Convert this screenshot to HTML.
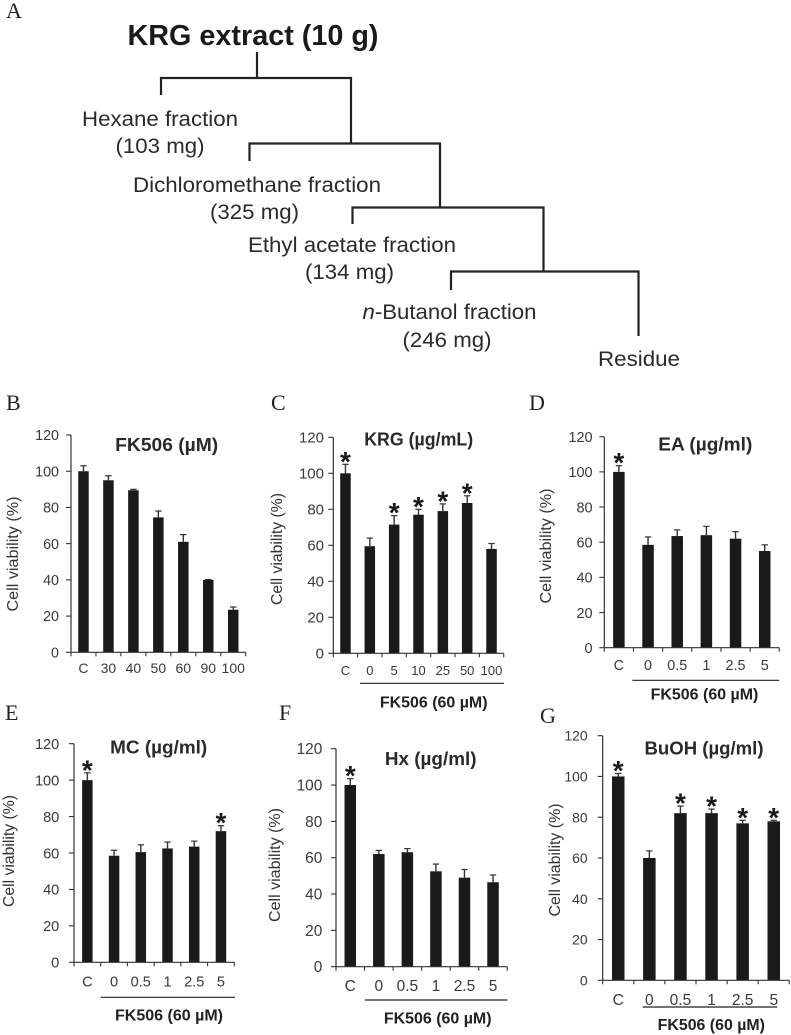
<!DOCTYPE html>
<html lang="en">
<head>
<meta charset="utf-8">
<title>KRG extract fractionation and cell viability</title>
<style>
html,body{margin:0;padding:0;background:#fff;}
svg{display:block;}
text{font-family:"Liberation Sans",Arial,sans-serif;fill:#303030;}
.letter{font-family:"Liberation Serif",serif;font-size:22px;fill:#222;}
.flow{font-size:20.8px;fill:#2a2a2a;}
.ftitle{font-size:28.6px;font-weight:bold;fill:#1a1a1a;}
.ptitle{font-size:18px;font-weight:bold;fill:#2a2a2a;text-anchor:middle;}
.ytitle{font-size:16px;fill:#333;text-anchor:middle;}
.fk{font-size:15.8px;font-weight:bold;fill:#222;text-anchor:middle;}
.link{stroke:#222;stroke-width:2.2;fill:none;}
.under{stroke:#222;stroke-width:1.2;}
</style>
</head>
<body>
<svg id="fig" xmlns="http://www.w3.org/2000/svg" width="791" height="1035" viewBox="0 0 791 1035">
  <rect x="0" y="0" width="791" height="1035" fill="#fff"/>

  <g>
    <text class="letter" x="6" y="18">A</text>
    <text class="ftitle" x="127.5" y="45" textLength="251" lengthAdjust="spacingAndGlyphs">KRG extract (10 g)</text>
    <path class="link" d="M257 52V78M161 95V78H351V143M249.5 161V143.5H440V207.5M352.5 224V207.5H543.5V271.5M451 290V271.5H638.5V336"/>
    <text class="flow" x="82" y="126" textLength="156" lengthAdjust="spacingAndGlyphs">Hexane fraction</text>
    <text class="flow" x="115.5" y="153" textLength="89" lengthAdjust="spacingAndGlyphs">(103 mg)</text>
    <text class="flow" x="133" y="192" textLength="248" lengthAdjust="spacingAndGlyphs">Dichloromethane fraction</text>
    <text class="flow" x="210" y="219" textLength="89" lengthAdjust="spacingAndGlyphs">(325 mg)</text>
    <text class="flow" x="248" y="252" textLength="208" lengthAdjust="spacingAndGlyphs">Ethyl acetate fraction</text>
    <text class="flow" x="305" y="279" textLength="89" lengthAdjust="spacingAndGlyphs">(134 mg)</text>
    <text class="flow" x="362.5" y="319" textLength="174" lengthAdjust="spacingAndGlyphs"><tspan font-style="italic">n</tspan>-Butanol fraction</text>
    <text class="flow" x="402.5" y="347" textLength="89" lengthAdjust="spacingAndGlyphs">(246 mg)</text>
    <text class="flow" x="598" y="366" textLength="82" lengthAdjust="spacingAndGlyphs">Residue</text>
  </g>

  <g>
    <text class="letter" x="6" y="410">B</text>
    <text class="ptitle" x="166.7" y="451" textLength="103" lengthAdjust="spacingAndGlyphs">FK506 (µM)</text>
    <text class="ytitle" transform="translate(18,554) rotate(-90)" textLength="115" lengthAdjust="spacingAndGlyphs">Cell viability (%)</text>
    <g id="chart-b"></g>
  </g>

  <g>
    <text class="letter" x="271" y="410">C</text>
    <text class="ptitle" x="418.7" y="445.7" textLength="109" lengthAdjust="spacingAndGlyphs">KRG (µg/mL)</text>
    <text class="ytitle" transform="translate(282,549) rotate(-90)" textLength="112" lengthAdjust="spacingAndGlyphs">Cell viability (%)</text>
    <g id="chart-c"></g>
    <line class="under" x1="360" x2="504" y1="683.3" y2="683.3"/>
    <text class="fk" x="433.7" y="707.7" textLength="107.7" lengthAdjust="spacingAndGlyphs">FK506 (60 µM)</text>
  </g>

  <g>
    <text class="letter" x="529" y="410">D</text>
    <text class="ptitle" x="705.3" y="450.7" textLength="94" lengthAdjust="spacingAndGlyphs">EA (µg/ml)</text>
    <text class="ytitle" transform="translate(551,546) rotate(-90)" textLength="115" lengthAdjust="spacingAndGlyphs">Cell viability (%)</text>
    <g id="chart-d"></g>
    <line class="under" x1="632.3" x2="779.3" y1="680.3" y2="680.3"/>
    <text class="fk" x="704.5" y="699.3" textLength="107.7" lengthAdjust="spacingAndGlyphs">FK506 (60 µM)</text>
  </g>

  <g>
    <text class="letter" x="5" y="720">E</text>
    <text class="ptitle" x="158.7" y="753.3" textLength="97" lengthAdjust="spacingAndGlyphs">MC (µg/ml)</text>
    <text class="ytitle" transform="translate(14,851) rotate(-90)" textLength="112" lengthAdjust="spacingAndGlyphs">Cell viability (%)</text>
    <g id="chart-e"></g>
    <line class="under" x1="100.7" x2="235" y1="997.3" y2="997.3"/>
    <text class="fk" x="169" y="1020.7" textLength="108" lengthAdjust="spacingAndGlyphs">FK506 (60 µM)</text>
  </g>

  <g>
    <text class="letter" x="279" y="720">F</text>
    <text class="ptitle" x="430.7" y="765" textLength="91.7" lengthAdjust="spacingAndGlyphs">Hx (µg/ml)</text>
    <text class="ytitle" transform="translate(280,865) rotate(-90)" textLength="114" lengthAdjust="spacingAndGlyphs">Cell viability (%)</text>
    <g id="chart-f"></g>
    <line class="under" x1="365" x2="507.3" y1="1000" y2="1000"/>
    <text class="fk" x="437.7" y="1023.3" textLength="107.7" lengthAdjust="spacingAndGlyphs">FK506 (60 µM)</text>
  </g>

  <g>
    <text class="letter" x="540" y="723">G</text>
    <text class="ptitle" x="704" y="754.3" textLength="119" lengthAdjust="spacingAndGlyphs">BuOH (µg/ml)</text>
    <text class="ytitle" transform="translate(560,860) rotate(-90)" textLength="113" lengthAdjust="spacingAndGlyphs">Cell viability (%)</text>
    <g id="chart-g"></g>
    <line class="under" x1="642.7" x2="777.3" y1="1007" y2="1007"/>
    <text class="fk" x="711.3" y="1030" textLength="107.3" lengthAdjust="spacingAndGlyphs">FK506 (60 µM)</text>
  </g>
</svg>

<script>
const yTickLabels = [0, 20, 40, 60, 80, 100, 120];

const bCategories = ['C', '30', '40', '50', '60', '90', '100'];
const bValues = [100, 95, 89.5, 74.5, 61, 40, 23.5];
const bErrors = [3, 2.5, 0.5, 3.5, 4, 0.2, 1.5];
const bStars = [0, 0, 0, 0, 0, 0, 0];

const cCategories = ['C', '0', '5', '10', '25', '50', '100'];
const cValues = [100, 59.5, 71.5, 77, 79, 83.5, 58];
const cErrors = [5, 4.5, 5, 3, 4, 4, 3];
const cStars = [1, 0, 1, 1, 1, 1, 0];

const dCategories = ['C', '0', '0.5', '1', '2.5', '5'];
const dValues = [100, 58.5, 63.5, 64, 62, 55];
const dErrors = [3.5, 4.5, 3.5, 5, 4, 3.5];
const dStars = [1, 0, 0, 0, 0, 0];

const eCategories = ['C', '0', '0.5', '1', '2.5', '5'];
const eValues = [100, 58.5, 60.5, 62.5, 63.5, 72];
const eErrors = [4, 3, 4, 3.5, 3, 3];
const eStars = [1, 0, 0, 0, 0, 1];

const fCategories = ['C', '0', '0.5', '1', '2.5', '5'];
const fValues = [100, 62, 63, 52.5, 49, 46.5];
const fErrors = [3.5, 2, 2, 4, 4.5, 4];
const fStars = [1, 0, 0, 0, 0, 0];

const gCategories = ['C', '0', '0.5', '1', '2.5', '5'];
const gValues = [100, 60, 82, 82, 77, 78];
const gErrors = [1.5, 3.5, 3.5, 2, 1.5, 0.5];
const gStars = [1, 0, 1, 1, 1, 1];

const SVGNS = 'http://www.w3.org/2000/svg';
const yMax = 120;

function node(parent, tag, attrs, content) {
  const el = document.createElementNS(SVGNS, tag);
  for (const k in attrs) el.setAttribute(k, attrs[k]);
  if (content !== undefined) el.textContent = content;
  parent.appendChild(el);
  return el;
}

function drawPanel(id, categories, values, errors, stars, box) {
  const root = document.getElementById(id);
  const xScale = function (i) { return box.left + (box.right - box.left) * (i + 0.5) / categories.length; };
  const xEdge = function (i) { return box.left + (box.right - box.left) * i / categories.length; };
  const yScale = function (v) { return box.bottom - (box.bottom - box.top) * v / yMax; };

  values.forEach(function (v, i) {
    const cx = xScale(i);
    const bar = node(root, 'rect', { x: cx - box.barW / 2, y: yScale(v), width: box.barW, height: box.bottom - yScale(v), fill: '#1a1a1a' });
    
    

    const top = yScale(v + errors[i]);
    const stem = node(root, 'line', { x1: cx, x2: cx, y1: yScale(v), y2: top, stroke: '#333', 'stroke-width': 1.4 });
    
    
    const cap = node(root, 'line', { x1: cx - 3.2, x2: cx + 3.2, y1: top, y2: top, stroke: '#333', 'stroke-width': 1.2 });
    
    

    if (stars[i]) {
      const star = node(root, 'text', { x: cx, y: top + 6.5, 'text-anchor': 'middle', 'font-size': 28, 'font-weight': 'bold', style: 'fill:#1a1a1a' }, '*');
      
      
    }

    const cat = node(root, 'text', { x: cx, y: box.catY, 'text-anchor': 'middle', 'font-size': box.catFont, style: 'fill:#3a3a3a' }, categories[i]);
    
    
  });

  const yAxis = node(root, 'line', { x1: box.left, x2: box.left, y1: box.top, y2: box.bottom, stroke: '#333', 'stroke-width': 1.2 });
  
  
  const xAxis = node(root, 'line', { x1: box.left, x2: box.right, y1: box.bottom, y2: box.bottom, stroke: '#333', 'stroke-width': 1.2 });
  
  

  yTickLabels.forEach(function (t) {
    const y = yScale(t);
    const tick = node(root, 'line', { x1: box.left - 5, x2: box.left, y1: y, y2: y, stroke: '#333', 'stroke-width': 1.1 });
    
    
    const label = node(root, 'text', { x: box.left - box.labelGap, y: y + box.tickFont * 0.36, 'text-anchor': 'end', 'font-size': box.tickFont, style: 'fill:#3a3a3a' }, String(t));
    
    
  });

  for (let i = 0; i <= categories.length; i++) {
    const tick = node(root, 'line', { x1: xEdge(i), x2: xEdge(i), y1: box.bottom, y2: box.bottom + 4, stroke: '#333', 'stroke-width': 1.1 });
    
    
  }
}

drawPanel('chart-b', bCategories, bValues, bErrors, bStars, { left: 71, right: 245.7, top: 435, bottom: 652.3, barW: 10.5, tickFont: 14.3, catFont: 14, labelGap: 12, catY: 673 });
drawPanel('chart-c', cCategories, cValues, cErrors, cStars, { left: 333.3, right: 503.7, top: 437.3, bottom: 653.3, barW: 10.5, tickFont: 15, catFont: 13, labelGap: 9.3, catY: 675 });
drawPanel('chart-d', dCategories, dValues, dErrors, dStars, { left: 604.3, right: 779.3, top: 436.7, bottom: 647.7, barW: 11.5, tickFont: 14.5, catFont: 14.4, labelGap: 11.7, catY: 670 });
drawPanel('chart-e', eCategories, eValues, eErrors, eStars, { left: 74, right: 234.3, top: 743.7, bottom: 962.3, barW: 10.5, tickFont: 14.6, catFont: 14.6, labelGap: 14.7, catY: 986.7 });
drawPanel('chart-f', fCategories, fValues, fErrors, fStars, { left: 336, right: 507.3, top: 748.7, bottom: 966.7, barW: 11.5, tickFont: 15.4, catFont: 15.5, labelGap: 13.7, catY: 991 });
drawPanel('chart-g', gCategories, gValues, gErrors, gStars, { left: 602.7, right: 789.3, top: 735.7, bottom: 980.3, barW: 12.5, tickFont: 14, catFont: 15.5, labelGap: 15, catY: 1005 });
</script>
</body>
</html>
